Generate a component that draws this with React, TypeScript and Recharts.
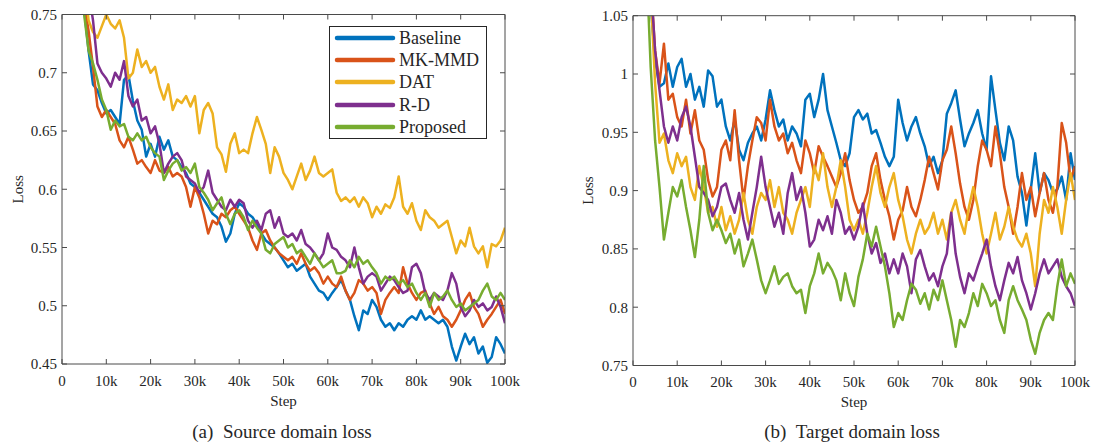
import { LineChart, Line, XAxis, YAxis, Legend } from 'recharts';

const SERIF = '"Liberation Serif", "Times New Roman", Times, serif';
const INK = '#262626';
const FRAME = '#4a4a4a';

const SERIES = [
  { key: 'baseline', name: 'Baseline', color: '#0072BD' },
  { key: 'mkmmd', name: 'MK-MMD', color: '#D95319' },
  { key: 'dat', name: 'DAT', color: '#EDB120' },
  { key: 'rd', name: 'R-D', color: '#7E2F8E' },
  { key: 'proposed', name: 'Proposed', color: '#77AC30' },
];

// steps 3k .. 100k, one reading per 1k
const STEP_K = Array.from({ length: 98 }, (_, i) => i + 3);

const X_TICKS = [0, 10000, 20000, 30000, 40000, 50000, 60000, 70000, 80000, 90000, 100000];
const SRC_Y_TICKS = [0.45, 0.5, 0.55, 0.6, 0.65, 0.7, 0.75];
const TGT_Y_TICKS = [0.75, 0.8, 0.85, 0.9, 0.95, 1, 1.05];

// (a) source domain loss
const SRC_BASELINE = [
  0.85, 0.8, 0.755, 0.719, 0.69, 0.685, 0.674,
  0.665, 0.668, 0.662, 0.656, 0.694, 0.698, 0.676, 0.659, 0.651, 0.628,
  0.639, 0.628, 0.645, 0.634, 0.642, 0.628, 0.625, 0.619, 0.614, 0.605,
  0.602, 0.597, 0.591, 0.585, 0.579, 0.576, 0.568, 0.555, 0.562, 0.579,
  0.588, 0.585, 0.579, 0.576, 0.57, 0.562, 0.556, 0.553, 0.55, 0.545,
  0.539, 0.533, 0.536, 0.53, 0.533, 0.536, 0.525, 0.519, 0.513, 0.511,
  0.505, 0.511, 0.516, 0.522, 0.513, 0.505, 0.491, 0.479, 0.496, 0.493,
  0.505, 0.499, 0.488, 0.482, 0.485, 0.479, 0.485, 0.482, 0.488, 0.491,
  0.488, 0.496, 0.488, 0.491, 0.488, 0.485, 0.488, 0.482, 0.465, 0.453,
  0.465, 0.476, 0.467, 0.473, 0.459, 0.465, 0.451, 0.456, 0.473, 0.467,
  0.459,
];
const SRC_MKMMD = [
  0.85, 0.8, 0.76, 0.736, 0.705, 0.671, 0.662,
  0.668, 0.662, 0.656, 0.642, 0.636, 0.645, 0.634, 0.622, 0.625, 0.619,
  0.614, 0.625, 0.616, 0.614, 0.619, 0.611, 0.614, 0.611, 0.602, 0.585,
  0.602, 0.593, 0.579, 0.562, 0.573, 0.57, 0.579, 0.576, 0.582, 0.585,
  0.579, 0.573, 0.567, 0.556, 0.548, 0.562, 0.565, 0.556, 0.55, 0.545,
  0.542, 0.539, 0.542, 0.536, 0.545, 0.536, 0.53, 0.533, 0.528, 0.519,
  0.525, 0.519, 0.516, 0.525, 0.513, 0.505, 0.511, 0.522, 0.519, 0.513,
  0.516, 0.511, 0.493, 0.505, 0.511, 0.516, 0.511, 0.533, 0.519, 0.511,
  0.505, 0.511, 0.513, 0.502, 0.493, 0.499, 0.491, 0.488, 0.482, 0.488,
  0.496, 0.505, 0.511, 0.499, 0.493, 0.482, 0.488, 0.493, 0.499, 0.505,
  0.493,
];
const SRC_DAT = [
  0.9, 0.85, 0.78, 0.745, 0.735, 0.73, 0.74,
  0.75, 0.742, 0.738, 0.745, 0.73, 0.695, 0.7, 0.72, 0.705, 0.71,
  0.7, 0.705, 0.688, 0.677, 0.69, 0.668, 0.677, 0.674, 0.68, 0.671,
  0.68, 0.648, 0.668, 0.674, 0.665, 0.636, 0.63, 0.615, 0.639, 0.648,
  0.631, 0.634, 0.631, 0.648, 0.662, 0.651, 0.639, 0.614, 0.636, 0.628,
  0.614, 0.608, 0.6, 0.611, 0.622, 0.608, 0.616, 0.628, 0.614, 0.611,
  0.614, 0.617, 0.597, 0.59, 0.593, 0.589, 0.593, 0.585, 0.593, 0.588,
  0.576, 0.585, 0.579, 0.587, 0.584, 0.593, 0.611, 0.585, 0.579, 0.588,
  0.573, 0.565, 0.582, 0.576, 0.573, 0.567, 0.57, 0.573, 0.559, 0.545,
  0.556, 0.551, 0.567, 0.551, 0.545, 0.551, 0.533, 0.553, 0.551, 0.556,
  0.567,
];
const SRC_RD = [
  0.95, 0.9, 0.82, 0.77, 0.745, 0.708, 0.7,
  0.695, 0.688, 0.7, 0.694, 0.71, 0.68, 0.671, 0.677, 0.659, 0.662,
  0.648, 0.654, 0.639, 0.614, 0.622, 0.628, 0.631, 0.625, 0.611, 0.608,
  0.605, 0.597, 0.602, 0.616, 0.597, 0.591, 0.585, 0.582, 0.591, 0.585,
  0.591, 0.588, 0.573, 0.567, 0.573, 0.565, 0.579, 0.582, 0.567, 0.576,
  0.562, 0.559, 0.562, 0.556, 0.565, 0.553, 0.55, 0.545, 0.539, 0.545,
  0.562, 0.55, 0.548, 0.542, 0.539, 0.533, 0.55, 0.533, 0.519, 0.525,
  0.528, 0.525, 0.513, 0.519, 0.525, 0.522, 0.516, 0.511, 0.513, 0.533,
  0.536, 0.528, 0.511, 0.505, 0.511, 0.508, 0.505, 0.513, 0.528, 0.519,
  0.499, 0.491, 0.496, 0.505, 0.499, 0.502, 0.496, 0.499, 0.508, 0.499,
  0.485,
];
const SRC_PROPOSED = [
  0.85, 0.8, 0.75, 0.719, 0.708, 0.694, 0.677,
  0.668, 0.651, 0.659, 0.654, 0.656, 0.645, 0.642, 0.648, 0.642, 0.645,
  0.636, 0.631, 0.628, 0.608, 0.616, 0.622, 0.625, 0.616, 0.619, 0.614,
  0.622, 0.602, 0.597, 0.591, 0.582, 0.588, 0.593, 0.579, 0.57, 0.579,
  0.582, 0.576, 0.565, 0.573, 0.567, 0.562, 0.548, 0.545, 0.553, 0.556,
  0.559, 0.55, 0.553, 0.545, 0.548, 0.542, 0.536, 0.545, 0.539, 0.533,
  0.536, 0.539, 0.528, 0.528, 0.53, 0.539, 0.533, 0.542, 0.536, 0.539,
  0.533, 0.528, 0.519, 0.525, 0.522, 0.525, 0.519, 0.522, 0.516, 0.519,
  0.511, 0.505, 0.511, 0.499, 0.511, 0.505, 0.508, 0.513, 0.505, 0.499,
  0.502, 0.496, 0.499, 0.502, 0.505, 0.513, 0.519, 0.508, 0.505, 0.511,
  0.505,
];

// (b) target domain loss
const TGT_BASELINE = [
  1.15, 1.06, 1.012, 0.989, 0.992, 1.009, 0.989,
  1.006, 1.013, 0.989, 1.0, 0.978, 0.989, 0.972, 1.003, 0.998, 0.972,
  0.978, 0.955, 0.943, 0.961, 0.935, 0.926, 0.941, 0.949, 0.955, 0.943,
  0.961, 0.986, 0.969, 0.955, 0.961, 0.943, 0.955, 0.949, 0.938, 0.978,
  0.983, 0.963, 0.978, 1.0, 0.969, 0.955, 0.941, 0.926, 0.921, 0.932,
  0.963, 0.969, 0.961, 0.966, 0.949, 0.952, 0.941, 0.929, 0.921, 0.929,
  0.978, 0.958, 0.943, 0.955, 0.963, 0.949, 0.938, 0.921, 0.929, 0.915,
  0.926, 0.966, 0.975, 0.986, 0.961, 0.938, 0.949, 0.958, 0.969, 0.949,
  0.935, 0.998, 0.969, 0.941, 0.926, 0.955, 0.943, 0.912, 0.898, 0.87,
  0.901, 0.932, 0.898, 0.915, 0.909, 0.898, 0.901, 0.912, 0.892, 0.932,
  0.909,
];
const TGT_MKMMD = [
  1.15, 1.08, 1.02, 0.992, 1.026, 0.978, 0.983,
  0.963, 0.955, 0.978, 0.949, 0.969, 0.943, 0.935, 0.909, 0.895, 0.903,
  0.935, 0.943, 0.926, 0.969, 0.926, 0.892, 0.921, 0.943, 0.963, 0.958,
  0.943, 0.978, 0.955, 0.943, 0.949, 0.932, 0.941, 0.926, 0.915, 0.943,
  0.932, 0.915, 0.938, 0.929, 0.921, 0.912, 0.903, 0.915, 0.932, 0.909,
  0.892, 0.881, 0.886, 0.898, 0.921, 0.932, 0.909, 0.892, 0.878, 0.858,
  0.875, 0.883, 0.903, 0.886, 0.878, 0.892, 0.909, 0.929, 0.915, 0.901,
  0.926, 0.935, 0.955, 0.932, 0.906, 0.886, 0.875, 0.892, 0.921, 0.943,
  0.935, 0.921, 0.955, 0.932, 0.903, 0.886, 0.863, 0.886, 0.915, 0.892,
  0.903, 0.878, 0.898, 0.915, 0.892, 0.881, 0.903, 0.958, 0.941, 0.909,
  0.921,
];
const TGT_DAT = [
  1.15, 1.07, 0.992, 0.941, 0.949, 0.926, 0.915,
  0.932, 0.921, 0.929, 0.903, 0.892, 0.921, 0.903, 0.881, 0.886, 0.869,
  0.886, 0.866, 0.878, 0.863, 0.875, 0.898, 0.875, 0.863, 0.886, 0.898,
  0.892, 0.909, 0.886, 0.903, 0.881, 0.875, 0.863, 0.881, 0.892, 0.903,
  0.886, 0.921, 0.909, 0.932, 0.903, 0.886, 0.903, 0.926, 0.903, 0.875,
  0.866, 0.875, 0.863, 0.881, 0.903, 0.921, 0.898, 0.886, 0.903, 0.915,
  0.892, 0.878, 0.858, 0.846, 0.863, 0.875, 0.863, 0.869, 0.881, 0.863,
  0.875, 0.858, 0.881, 0.892, 0.875, 0.863, 0.886, 0.903, 0.886, 0.863,
  0.846, 0.863, 0.881, 0.858, 0.869, 0.886, 0.869, 0.858, 0.852, 0.863,
  0.846, 0.818, 0.863, 0.892, 0.881, 0.903, 0.886, 0.863, 0.892, 0.915,
  0.892,
];
const TGT_RD = [
  1.2, 1.08, 1.02, 0.986, 0.955, 0.941, 0.955,
  0.943, 0.963, 0.972, 0.955, 0.929, 0.903, 0.898, 0.892, 0.878, 0.886,
  0.903, 0.906, 0.892, 0.881, 0.898, 0.875, 0.858, 0.881, 0.903, 0.929,
  0.903, 0.886, 0.869, 0.881, 0.863, 0.898, 0.915, 0.892, 0.903, 0.881,
  0.852, 0.858, 0.875, 0.866, 0.878, 0.863, 0.892, 0.881, 0.863, 0.869,
  0.858, 0.869, 0.889, 0.863, 0.846, 0.855, 0.838, 0.846, 0.829, 0.841,
  0.829, 0.846, 0.835, 0.812, 0.841, 0.849, 0.835, 0.823, 0.829, 0.818,
  0.835, 0.846, 0.881, 0.846, 0.826, 0.812, 0.829, 0.823, 0.835, 0.846,
  0.858, 0.835, 0.818, 0.806, 0.823, 0.838, 0.829, 0.843, 0.823, 0.812,
  0.798, 0.812, 0.829, 0.841, 0.829, 0.835, 0.841, 0.826, 0.818, 0.812,
  0.801,
];
const TGT_PROPOSED = [
  1.1, 1.006, 0.943, 0.903, 0.858, 0.881, 0.903,
  0.895, 0.909, 0.886, 0.866, 0.843, 0.875, 0.921, 0.881, 0.866, 0.875,
  0.866, 0.855, 0.863, 0.846, 0.858, 0.835, 0.846, 0.858, 0.841, 0.823,
  0.812, 0.823, 0.835, 0.82, 0.826, 0.829, 0.818, 0.812, 0.815, 0.795,
  0.818, 0.829, 0.846, 0.829, 0.838, 0.832, 0.823, 0.806, 0.829, 0.812,
  0.801, 0.826, 0.841, 0.863, 0.852, 0.869, 0.852, 0.835, 0.812, 0.783,
  0.795, 0.789, 0.806, 0.82, 0.815, 0.803, 0.812, 0.798, 0.815, 0.806,
  0.823, 0.806, 0.789, 0.766, 0.789, 0.783, 0.795, 0.812, 0.801, 0.82,
  0.812, 0.801, 0.806, 0.789, 0.778, 0.806, 0.818, 0.806, 0.798, 0.789,
  0.772, 0.76, 0.778, 0.789, 0.795, 0.789, 0.818, 0.841, 0.818, 0.829,
  0.82,
];

function buildRows(cols: number[][]) {
  return STEP_K.map((k, i) => {
    const row: Record<string, number> = { step: k * 1000 };
    SERIES.forEach((s, j) => {
      row[s.key] = cols[j][i];
    });
    return row;
  });
}

const SRC_ROWS = buildRows([SRC_BASELINE, SRC_MKMMD, SRC_DAT, SRC_RD, SRC_PROPOSED]);
const TGT_ROWS = buildRows([TGT_BASELINE, TGT_MKMMD, TGT_DAT, TGT_RD, TGT_PROPOSED]);

const fmtStep = (v: number) => (v === 0 ? '0' : `${v / 1000}k`);
const blank = () => '';

function LegendBox() {
  return (
    <div
      style={{
        width: 158,
        height: 113,
        boxSizing: 'border-box',
        border: `1.5px solid ${INK}`,
        background: '#fff',
        fontFamily: SERIF,
        fontSize: 18,
        color: INK,
      }}
    >
      {SERIES.map((s) => (
        <div key={s.key} style={{ display: 'flex', alignItems: 'center', height: 22.2 }}>
          <svg width={69} height={22} style={{ flex: 'none' }}>
            <line x1={7} y1={11} x2={63} y2={11} stroke={s.color} strokeWidth={4.5} strokeLinecap="round" />
          </svg>
          <span style={{ lineHeight: 1 }}>{s.name}</span>
        </div>
      ))}
    </div>
  );
}

type PanelProps = {
  rows: Record<string, number>[];
  yDomain: [number, number];
  yTicks: number[];
  left: number;
  marginTop: number;
  marginRight: number;
  yAxisWidth: number;
  xAxisHeight: number;
  lossOffset: number;
  showLegend?: boolean;
};

function LossPanel(p: PanelProps) {
  const tickStyle = { fill: INK, fontSize: 15, fontFamily: SERIF };
  const frame = { stroke: FRAME, strokeWidth: 1 };
  return (
    <div style={{ position: 'absolute', left: p.left, top: 0 }}>
      <LineChart
        width={550}
        height={442}
        data={p.rows}
        style={{ fontFamily: SERIF }}
        margin={{ top: p.marginTop, right: p.marginRight, bottom: 0, left: 0 }}
      >
        <XAxis
          xAxisId="b"
          dataKey="step"
          type="number"
          domain={[0, 100000]}
          ticks={X_TICKS}
          interval={0}
          allowDataOverflow
          height={p.xAxisHeight}
          tickFormatter={fmtStep}
          tick={tickStyle}
          tickSize={-5}
          tickMargin={16}
          axisLine={frame}
          tickLine={frame}
          label={{ value: 'Step', position: 'insideTop', offset: 31, fill: INK, fontSize: 15, fontFamily: SERIF }}
        />
        <XAxis
          xAxisId="t"
          orientation="top"
          dataKey="step"
          type="number"
          domain={[0, 100000]}
          ticks={X_TICKS}
          interval={0}
          allowDataOverflow
          height={1}
          tickFormatter={blank}
          tickSize={-5}
          axisLine={frame}
          tickLine={frame}
        />
        <YAxis
          yAxisId="l"
          type="number"
          domain={p.yDomain}
          ticks={p.yTicks}
          interval={0}
          allowDataOverflow
          width={p.yAxisWidth}
          tick={tickStyle}
          tickSize={-5}
          tickMargin={10}
          axisLine={frame}
          tickLine={frame}
          label={{
            value: 'Loss',
            angle: -90,
            position: 'insideLeft',
            offset: p.lossOffset,
            fill: INK,
            fontSize: 15,
            fontFamily: SERIF,
            style: { textAnchor: 'middle' },
          }}
        />
        <YAxis
          yAxisId="r"
          orientation="right"
          type="number"
          domain={p.yDomain}
          ticks={p.yTicks}
          interval={0}
          allowDataOverflow
          width={1}
          tickFormatter={blank}
          tickSize={-5}
          axisLine={frame}
          tickLine={frame}
        />
        {SERIES.map((s) => (
          <Line
            key={s.key}
            xAxisId="b"
            yAxisId="l"
            type="linear"
            dataKey={s.key}
            name={s.name}
            stroke={s.color}
            strokeWidth={2.5}
            strokeLinejoin="round"
            dot={false}
            activeDot={false}
            isAnimationActive={false}
          />
        ))}
        {p.showLegend && (
          <Legend
            layout="vertical"
            align="center"
            verticalAlign="middle"
            content={() => <LegendBox />}
            wrapperStyle={{ left: 329, top: 26, width: 158, height: 113 }}
          />
        )}
      </LineChart>
    </div>
  );
}

const captionStyle = {
  position: 'absolute' as const,
  top: 421,
  width: 240,
  textAlign: 'center' as const,
  fontFamily: SERIF,
  fontSize: 19,
  lineHeight: '22px',
  color: INK,
  whiteSpace: 'pre' as const,
};

export default function App() {
  return (
    <div style={{ position: 'absolute', left: 0, top: 0, width: 1100, height: 442, background: '#fff', overflow: 'hidden' }}>
      <style>{`.recharts-wrapper text, .recharts-text { font-family: ${SERIF}; }`}</style>
      <LossPanel
        rows={SRC_ROWS}
        yDomain={[0.45, 0.75]}
        yTicks={SRC_Y_TICKS}
        left={0}
        marginTop={13.5}
        marginRight={44}
        yAxisWidth={62}
        xAxisHeight={78}
        lossOffset={18}
        showLegend
      />
      <LossPanel
        rows={TGT_ROWS}
        yDomain={[0.75, 1.05]}
        yTicks={TGT_Y_TICKS}
        left={550}
        marginTop={14.7}
        marginRight={24}
        yAxisWidth={83}
        xAxisHeight={76.5}
        lossOffset={38}
      />
      <div style={{ ...captionStyle, left: 162 }}>{'(a)\u2002Source domain loss'}</div>
      <div style={{ ...captionStyle, left: 732 }}>{'(b)\u2002Target domain loss'}</div>
    </div>
  );
}
